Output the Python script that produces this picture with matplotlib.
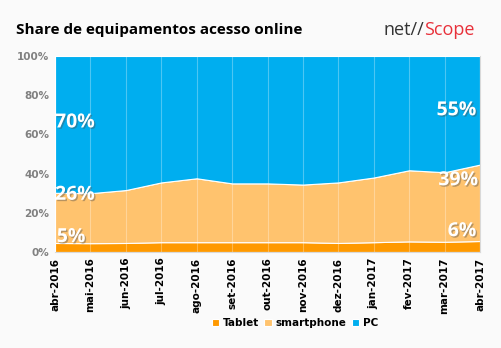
import numpy as np
import matplotlib
matplotlib.use('Agg')
import matplotlib.pyplot as plt
import matplotlib.patheffects as pe

months = ['abr-2016', 'mai-2016', 'jun-2016', 'jul-2016', 'ago-2016', 'set-2016',
          'out-2016', 'nov-2016', 'dez-2016', 'jan-2017', 'fev-2017', 'mar-2017', 'abr-2017']
tablet = [4.6, 4.5, 4.6, 5.0, 5.0, 5.0, 5.0, 5.0, 4.6, 5.0, 5.4, 5.2, 5.6]
smartphone = [25.6, 25.5, 27.0, 30.5, 32.6, 30.0, 30.0, 29.4, 30.9, 33.0, 36.3, 35.5, 39.0]
pc = [69.8, 70.0, 68.4, 64.5, 62.4, 65.0, 65.0, 65.6, 64.5, 62.0, 58.3, 59.3, 55.4]

c_tab = '#FF9900'
c_sm = '#FFC36E'
c_pc = '#00AEEF'

fig = plt.figure(figsize=(5.02, 3.48), dpi=100)
fig.patch.set_facecolor('#FAFAFA')
ax = fig.add_axes([0.1096, 0.2759, 0.8466, 0.5632])

x = np.arange(len(months))
ax.stackplot(x, tablet, smartphone, pc, colors=[c_tab, c_sm, c_pc],
             labels=['Tablet', 'smartphone', 'PC'],
             edgecolor='white', linewidth=0.8)

ax.set_xlim(0, len(months) - 1)
ax.set_ylim(0, 100)
for xi in x:
    ax.axvline(xi, color='white', alpha=0.3, lw=0.8)

ax.set_yticks(range(0, 101, 20))
ax.set_yticklabels(['%d%%' % v for v in range(0, 101, 20)],
                   color='#808080', fontsize=7.5, fontweight='bold')
ax.set_xticks(x)
ax.set_xticklabels(months, rotation=90, fontsize=7.5, fontweight='bold')
ax.tick_params(length=0, pad=4)
for s in ['top', 'left']:
    ax.spines[s].set_visible(False)
for s in ['bottom', 'right']:
    ax.spines[s].set_color('#D9D9D9')

# value labels at the first and last month
shadow = [pe.SimplePatchShadow(offset=(1, -1), alpha=0.4), pe.Normal()]
lab = dict(color='white', fontsize=14, fontweight='bold', family='Open Sans',
           path_effects=shadow, va='center')
ax.text(0.0, 100 - pc[0] / 2 + 1, '%d%%' % round(pc[0]), ha='left', **lab)
ax.text(0.0, tablet[0] + smartphone[0] - 1, '%d%%' % round(smartphone[0]), ha='left', **lab)
ax.text(0.05, tablet[0] + 3, '%d%%' % round(tablet[0]), ha='left', **lab)
ax.text(11.9, 100 - pc[-1] / 2 + 0, '%d%%' % round(pc[-1]), ha='right', **lab)
ax.text(11.95, tablet[-1] + smartphone[-1] - 8, '%d%%' % round(smartphone[-1]), ha='right', **lab)
ax.text(11.9, tablet[-1] + 5, '%d%%' % round(tablet[-1]), ha='right', **lab)

fig.text(0.032, 0.915, 'Share de equipamentos acesso online', fontsize=11,
         fontweight='bold', family='Open Sans', va='center')

# logo: "net//" followed by a red "Scope"
t1 = fig.text(0.763, 0.915, 'net//', fontsize=13, color='#333333', family='Open Sans', va='center')
fig.canvas.draw()
bb = t1.get_window_extent()
fig.text(bb.x1 / fig.bbox.width, 0.915, 'Scope', fontsize=13, color='#E8303A',
         family='Open Sans', va='center')

ax.legend(loc='center', bbox_to_anchor=(0.565, -0.362), ncol=3, frameon=False,
          handlelength=0.7, handleheight=0.7, handletextpad=0.4, columnspacing=0.5,
          prop={'size': 7.5, 'weight': 'bold'})

fig.savefig('out.png', dpi=100, facecolor=fig.get_facecolor())
